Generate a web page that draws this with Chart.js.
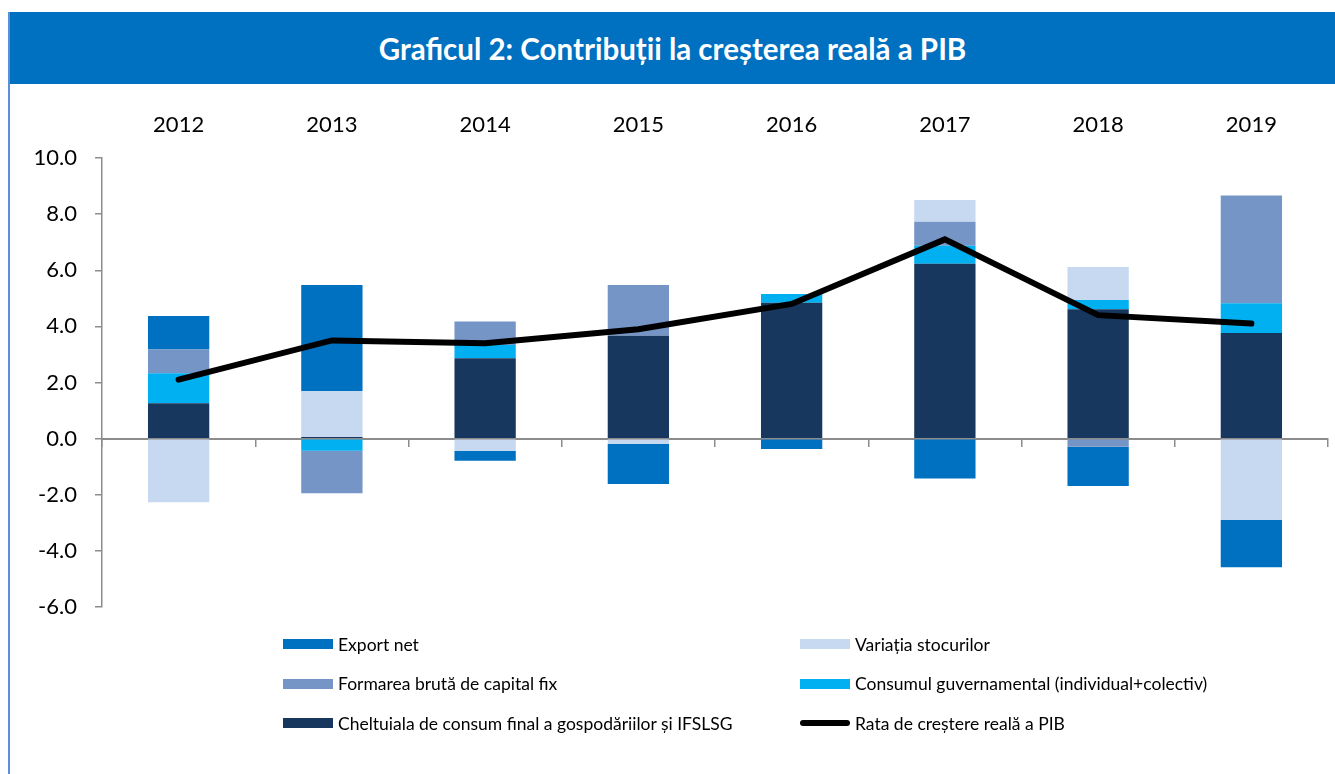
<!DOCTYPE html>
<html lang="ro">
<head>
<meta charset="utf-8">
<title>Graficul 2</title>
<script src="https://cdn.jsdelivr.net/npm/chart.js@4"></script>
<style>
    html, body { margin: 0; padding: 0; background: #fff; }
    #page { position: relative; width: 1335px; height: 774px; overflow: hidden; font-family: "Lato", sans-serif; }
    #frame_line { position: absolute; left: 8px; top: 12px; width: 2px; height: 762px; background: #5b8fd9; }
    #title { position: absolute; left: 10px; top: 12px; width: 1325px; height: 72px; background: #0070c0;
             color: #fff; font-weight: bold; font-size: 29.5px; display: flex; align-items: center; justify-content: center; }
    #chart_box { position: absolute; left: 0; top: 0; width: 1335px; height: 774px; }
    #legend { position: absolute; left: 283px; top: 632px; width: 1000px; }
    .item { position: absolute; display: flex; align-items: center; height: 24px; font-size: 17.5px; color: #000; white-space: nowrap; }
    .swatch { width: 50px; height: 10px; margin-right: 5px; }
    .swatch.line { height: 6px; border-radius: 3px; }
</style>
</head>
<body>
<div id="page">
    <div id="chart_box"><canvas id="contrib_chart" width="1335" height="774"></canvas></div>
    <div id="frame_line"></div>
    <div id="title">Graficul 2: Contribuții la creșterea reală a PIB</div>
    <div id="legend"></div>
</div>
<script>
// data (percentage points)
const years = ["2012", "2013", "2014", "2015", "2016", "2017", "2018", "2019"];
const cheltuialaGospodarii = [1.26, 0.06, 2.86, 3.67, 4.84, 6.23, 4.61, 3.76];
const consumGuvernamental = [1.07, -0.43, 0.48, 0.00, 0.31, 0.64, 0.33, 1.06];
const formareaBruta = [0.85, -1.52, 0.83, 1.80, 0.00, 0.86, -0.29, 3.84];
const variatiaStocurilor = [-2.27, 1.64, -0.44, -0.19, 0.00, 0.77, 1.18, -2.90];
const exportNet = [1.19, 3.77, -0.35, -1.43, -0.37, -1.42, -1.40, -1.68];
const rataPIB = [2.1, 3.5, 3.4, 3.9, 4.8, 7.1, 4.4, 4.1];
const yTicks = [-6, -4, -2, 0, 2, 4, 6, 8, 10];

const axisGrey = "#8c8c8c";
const fontFamily = "Lato, sans-serif";

function barSet(label, data, color) {
    return {
        type: "bar",
        label: label,
        data: data,
        backgroundColor: color,
        borderWidth: 0,
        stack: "contrib",
        order: 1,
        xAxisID: "x",
        yAxisID: "y",
        barPercentage: 0.4,
        categoryPercentage: 1
    };
}

// stacking goes from the zero line outwards, in this order
const datasets = [
    barSet("Cheltuiala de consum final a gospodăriilor și IFSLSG", cheltuialaGospodarii, "#17375e"),
    barSet("Consumul guvernamental (individual+colectiv)", consumGuvernamental, "#00b0f0"),
    barSet("Formarea brută de capital fix", formareaBruta, "#7495c6"),
    barSet("Variația stocurilor", variatiaStocurilor, "#c6d9f1"),
    barSet("Export net", exportNet, "#0070c0"),
    {
        type: "line",
        label: "Rata de creștere reală a PIB",
        data: rataPIB,
        borderColor: "#000",
        backgroundColor: "#000",
        borderWidth: 6,
        borderCapStyle: "round",
        borderJoinStyle: "miter",
        pointRadius: 0,
        tension: 0,
        fill: false,
        stack: "line",
        order: 0,
        xAxisID: "x",
        yAxisID: "y"
    }
];

const chart = new Chart(document.getElementById("contrib_chart").getContext("2d"), {
    data: { labels: years, datasets: datasets },
    options: {
        responsive: false,
        animation: false,
        layout: { padding: { top: 108, left: 22, right: 7, bottom: 167 } },
        plugins: { legend: { display: false }, tooltip: { enabled: false } },
        scales: {
            x: {
                type: "category",
                position: "top",
                stacked: true,
                offset: true,
                grid: { display: false, drawTicks: false },
                border: { display: false },
                ticks: { color: "#000", font: { family: fontFamily, size: 22 }, padding: 20 },
                afterFit: function(scale) { scale.height = 50; }
            },
            // category axis crossing at zero, only line + tick marks
            x0: {
                type: "category",
                position: { y: 0 },
                offset: true,
                grid: { offset: true, drawOnChartArea: false, drawTicks: true, tickLength: 7, color: axisGrey, lineWidth: 1.5 },
                border: { color: axisGrey, width: 2 },
                ticks: { display: false }
            },
            y: {
                type: "linear",
                position: "left",
                stacked: true,
                min: -6,
                max: 10,
                afterBuildTicks: function(scale) { scale.ticks = yTicks.map(v => ({ value: v })); },
                grid: { drawOnChartArea: false, drawTicks: true, tickLength: 7, color: axisGrey, lineWidth: 1.5 },
                border: { color: axisGrey, width: 1.5 },
                ticks: {
                    color: "#000",
                    font: { family: fontFamily, size: 22 },
                    padding: 18,
                    callback: value => Number(value).toFixed(1)
                },
                afterFit: function(scale) { scale.width = 80; }
            }
        }
    }
});

// legend in two columns, same order as the original
const legendOrder = [4, 3, 2, 1, 0, 5];
document.getElementById("legend").innerHTML = legendOrder.map(function(index, n) {
    const ds = chart.data.datasets[index];
    const left = (n % 2) * 517;
    const top = Math.floor(n / 2) * 39.5;
    const color = ds.type === "line" ? ds.borderColor : ds.backgroundColor;
    return /* html */ `
        <div class="item" style="left:${left}px; top:${top}px;">
            <span class="swatch ${ds.type === "line" ? "line" : ""}" style="background:${color};"></span>
            <span>${ds.label}</span>
        </div>
    `;
}).join("");
</script>
</body>
</html>
